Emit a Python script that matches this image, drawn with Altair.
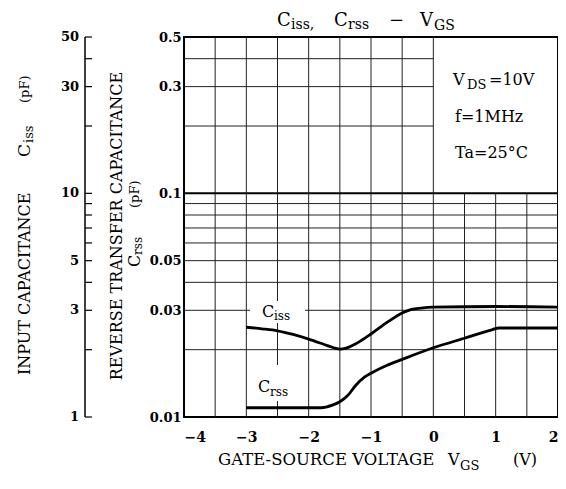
import altair as alt
import pandas as pd

FONT = "DejaVu Serif"

# ---- data ----
vgs_ciss = [-3.0, -2.75, -2.5, -2.25, -2.0, -1.75, -1.6, -1.5, -1.4, -1.25, -1.0, -0.75, -0.5,
            -0.35, -0.2, 0.0, 1.0, 2.0]
ciss_pf = [2.52, 2.48, 2.43, 2.34, 2.23, 2.11, 2.04, 2.01, 2.03, 2.12, 2.35, 2.64, 2.92,
           3.03, 3.07, 3.10, 3.12, 3.10]

vgs_crss = [-3.0, -2.0, -1.8, -1.62, -1.5, -1.37, -1.25, -1.1, -1.0, -0.75, -0.5, 0.0, 0.5, 0.95, 1.05, 2.0]
crss_pf = [0.0110, 0.0110, 0.0110, 0.0113, 0.0117, 0.0125, 0.0138, 0.0151, 0.0157, 0.0170,
           0.0181, 0.0204, 0.0225, 0.0246, 0.0250, 0.0250]

x_domain = [-4, 2]
y_domain = [0.01, 0.5]
x_ticks = [-4, -3, -2, -1, 0, 1, 2]
y_ticks = [0.01, 0.03, 0.05, 0.1, 0.3, 0.5]
outer_ticks = [1, 2, 3, 4, 5, 6, 7, 8, 9, 10, 20, 30, 40, 50]
outer_labels = [1, 3, 5, 10, 30, 50]

grid_x = [-3.5, -3, -2.5, -2, -1.5, -1, -0.5, 0, 0.5, 1, 1.5]
grid_y = [0.02, 0.03, 0.04, 0.05, 0.06, 0.07, 0.08, 0.09, 0.2, 0.3, 0.4]

# ---- tables ----
ciss_df = pd.DataFrame({"vgs": vgs_ciss, "c": ciss_pf, "pos": [v / 100 for v in ciss_pf]})
crss_df = pd.DataFrame({"vgs": vgs_crss, "c": crss_pf, "pos": crss_pf})
gx_df = pd.DataFrame({"gx": grid_x, "lo": [y_domain[0]] * len(grid_x),
                      "top": [0.5 if g <= 0 else 0.1 for g in grid_x]})
gy_df = pd.DataFrame({"gy": grid_y, "xs": [x_domain[0]] * len(grid_y),
                      "xend": [2 if g < 0.1 else 0 for g in grid_y]})
g01_df = pd.DataFrame({"gy": [0.1], "xs": [x_domain[0]], "xend": [x_domain[1]]})
ot_df = pd.DataFrame({"ot": outer_ticks, "pos": [v / 100 for v in outer_ticks]})
ol_df = pd.DataFrame({"ol": [str(v) for v in outer_labels], "pos": [v / 100 for v in outer_labels]})
dom_df = pd.DataFrame({"lo": [y_domain[0]], "hi": [y_domain[1]]})
one = pd.DataFrame({"k": [0]})

xs = alt.Scale(domain=x_domain, nice=False, zero=False)
ys = alt.Scale(type="log", domain=y_domain, nice=False)

ax_x = alt.Axis(values=x_ticks, title=None, grid=False, domain=False, ticks=False, tickSize=0,
                labelFont=FONT, labelFontSize=14, labelFontWeight="bold", labelColor="black",
                labelPadding=13)
ax_y = alt.Axis(values=y_ticks, format="~g", title=None, grid=False, domain=False, ticks=False,
                tickSize=0, labelFont=FONT, labelFontSize=13, labelFontWeight="bold",
                labelColor="black", labelPadding=3)


def X(f):
    return alt.X(f, type="quantitative", scale=xs, axis=ax_x)


def Y(f):
    return alt.Y(f, type="quantitative", scale=ys, axis=ax_y)


def txt(s, x, y, size, angle=0, align="left", baseline="alphabetic", weight="normal"):
    return alt.Chart(one).mark_text(
        font=FONT, fontSize=size, angle=angle, align=align, baseline=baseline,
        fontWeight=weight, color="black"
    ).encode(x=alt.value(x), y=alt.value(y), text=alt.value(s))


def box(x1, x2, y1, y2):
    return alt.Chart(one).mark_rect(color="white").encode(
        x=alt.value(x1), x2=alt.value(x2), y=alt.value(y1), y2=alt.value(y2))


gridv = alt.Chart(gx_df).mark_rule(color="#222", strokeWidth=1).encode(
    x=X("gx"), y=Y("lo"), y2=alt.Y2("top"))
gridh = alt.Chart(gy_df).mark_rule(color="#222", strokeWidth=1).encode(
    y=Y("gy"), x=X("xs"), x2=alt.X2("xend"))
grid01 = alt.Chart(g01_df).mark_rule(color="black", strokeWidth=2).encode(
    y=Y("gy"), x=X("xs"), x2=alt.X2("xend"))

ciss_line = alt.Chart(ciss_df).mark_line(color="black", strokeWidth=2.8, interpolate="monotone").encode(
    x=X("vgs"), y=Y("pos"))
crss_line = alt.Chart(crss_df).mark_line(color="black", strokeWidth=2.8, interpolate="monotone").encode(
    x=X("vgs"), y=Y("pos"))

# outer (Ciss) axis drawn on the same log scale
outer_dom = alt.Chart(dom_df).mark_rule(color="black", strokeWidth=1.5).encode(
    x=alt.value(-99), y=Y("lo"), y2=alt.Y2("hi"))
outer_tk = alt.Chart(ot_df).mark_rule(color="black", strokeWidth=1.2).encode(
    y=Y("pos"), x=alt.value(-99), x2=alt.value(-92))
outer_lb = alt.Chart(ol_df).mark_text(font=FONT, fontSize=13, fontWeight="bold", align="right",
                                      baseline="middle", color="black").encode(
    y=Y("pos"), x=alt.value(-105), text="ol:N")

texts = [
    # title
    txt("C", 93, -11, 18), txt("iss,", 107, -8, 14),
    txt("C", 150, -11, 18), txt("rss", 164, -8, 14),
    txt("\u2212", 205, -11, 18),
    txt("V", 236, -11, 18), txt("GS", 250, -7, 14),
    # conditions
    txt("V", 269, 48, 16), txt("DS", 283, 52, 13), txt("=10V", 305, 48, 16),
    txt("f=1MHz", 271, 85, 16),
    txt("Ta=25\u00b0C", 271, 121, 16),
    # curve labels
    txt("C", 78, 280, 16), txt("iss", 90, 283, 12),
    txt("C", 74, 355, 16), txt("rss", 86, 359, 12),
    # x title
    txt("GATE-SOURCE VOLTAGE", 34, 428, 16.5), txt("V", 264, 428, 16), txt("GS", 276, 433, 13),
    txt("(V)", 329, 428, 16),
    # outer y title (rotated)
    txt("INPUT CAPACITANCE", -159, 338, 16, angle=270, baseline="middle"),
    txt("C", -159, 120, 17, angle=270, baseline="middle"),
    txt("iss", -155, 106, 13, angle=270, baseline="middle"),
    txt("(pF)", -159, 66, 13, angle=270, baseline="middle"),
    # inner y title (rotated)
    txt("REVERSE TRANSFER CAPACITANCE", -67, 189, 16, angle=270, align="center", baseline="middle"),
    txt("C", -49, 230, 16, angle=270, baseline="middle"),
    txt("rss", -46, 218, 12, angle=270, baseline="middle"),
    txt("(pF)", -49, 171, 13, angle=270, baseline="middle"),
]

chart = alt.layer(
    gridv, gridh, grid01,
    box(66, 121, 264, 286), box(71, 118, 328, 364),
    ciss_line, crss_line,
    outer_dom, outer_tk, outer_lb,
    *texts,
).properties(
    width=374, height=380,
    autosize=alt.AutoSizeParams(type="none"),
    padding={"left": 176, "top": 29, "right": 0, "bottom": 60},
    background="white",
).configure_view(stroke="black", strokeWidth=2)

chart.save("out.html", embed_options={"renderer": "svg", "actions": False})
